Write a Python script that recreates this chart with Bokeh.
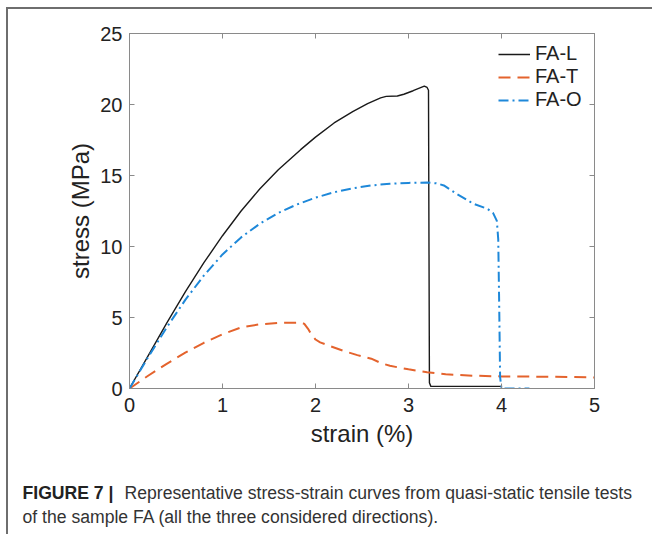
from bokeh.plotting import figure
from bokeh.models import (LinearAxis, FixedTicker, Legend, LegendItem, Range1d,
                          Div, Spacer)
from bokeh.layouts import column, row
from bokeh.core.properties import value
from bokeh.embed import file_html
from bokeh.resources import INLINE

# ---- data ----
strain_L = [0, 0.2, 0.4, 0.6, 0.8, 1.0, 1.2, 1.4, 1.6, 1.84, 2.0, 2.2, 2.4, 2.56,
            2.7, 2.76, 2.88, 2.95, 3.05, 3.17, 3.2, 3.215, 3.225, 3.24, 3.6, 4.0]
stress_L = [0, 2.3, 4.6, 6.8, 8.86, 10.76, 12.5, 14.05, 15.4, 16.82, 17.7, 18.7, 19.5,
            20.06, 20.47, 20.57, 20.6, 20.72, 20.97, 21.3, 21.2, 21.0, 0.4, 0.15, 0.15, 0.15]

strain_T = [0, 0.2, 0.4, 0.6, 0.8, 1.0, 1.2, 1.4, 1.6, 1.85, 1.88, 1.92, 1.96, 2.0,
            2.05, 2.15, 2.3, 2.45, 2.6, 2.7, 2.8, 3.0, 3.2, 3.4, 3.7, 4.0, 4.5, 5.0]
stress_T = [0, 0.9, 1.74, 2.52, 3.22, 3.82, 4.3, 4.52, 4.62, 4.64, 4.55, 4.2, 3.75, 3.45,
            3.25, 3.0, 2.65, 2.35, 2.1, 1.8, 1.6, 1.35, 1.15, 1.0, 0.9, 0.85, 0.83, 0.78]

strain_O = [0, 0.2, 0.4, 0.6, 0.8, 1.0, 1.2, 1.4, 1.6, 1.8, 2.0, 2.2, 2.4, 2.6,
            2.8, 3.0, 3.2, 3.3, 3.38, 3.52, 3.7, 3.85, 3.91, 3.95, 3.965, 3.975,
            3.985, 4.0, 4.3]
stress_O = [0, 2.2, 4.3, 6.24, 7.96, 9.44, 10.64, 11.6, 12.36, 12.96, 13.44, 13.82, 14.1, 14.3,
            14.42, 14.48, 14.5, 14.45, 14.3, 13.7, 13.0, 12.65, 12.35, 11.8, 10.5, 6.0,
            0.8, 0.0, 0.0]

series_names = ["FA-L", "FA-T", "FA-O"]
x_ticks = [0, 1, 2, 3, 4, 5]
y_ticks = [0, 5, 10, 15, 20, 25]

caption_bold = "FIGURE 7 |"
caption_line1 = "Representative stress-strain curves from quasi-static tensile tests"
caption_line2 = "of the sample FA (all the three considered directions)."

# ---- layout constants (page pixels) ----
W, H = 655, 534
OX, OY = 8, 9            # origin of the chart block inside the page frame lines
FL, FR, FT, FB = 129, 594, 33, 388
CAP_TOP = 470
FONT = "Liberation Sans"
AX_GRAY = "#8a8a8a"
TXT = "#222222"
FRAME_GRAY = "#6e6e6e"

pw = W - OX
ph = CAP_TOP - OY
p = figure(width=pw, height=ph, output_backend="svg", toolbar_location=None,
           x_range=Range1d(0, 5), y_range=Range1d(0, 25),
           min_border_left=FL - OX, min_border_right=W - FR,
           min_border_top=FT - OY, min_border_bottom=CAP_TOP - FB,
           x_axis_label="strain (%)", y_axis_label="stress (MPa)")
p.frame_align = False
p.xgrid.visible = False
p.ygrid.visible = False
p.outline_line_color = AX_GRAY
p.outline_line_width = 1
p.background_fill_color = "white"
p.border_fill_color = "white"

for ax, tk in ((p.xaxis[0], x_ticks), (p.yaxis[0], y_ticks)):
    ax.ticker = FixedTicker(ticks=tk)
    ax.axis_line_color = AX_GRAY
    ax.major_tick_line_color = AX_GRAY
    ax.major_tick_in = 5
    ax.major_tick_out = 0
    ax.minor_tick_line_color = None
    ax.major_label_text_font = FONT
    ax.major_label_text_font_size = "20px"
    ax.major_label_text_color = TXT
    ax.axis_label_text_font = FONT
    ax.axis_label_text_font_size = "24px"
    ax.axis_label_text_font_style = "normal"
    ax.axis_label_text_color = TXT
p.xaxis[0].major_label_standoff = 9
p.xaxis[0].axis_label_standoff = 5
p.yaxis[0].major_label_standoff = 7
p.yaxis[0].axis_label_standoff = 3

for loc, tk in (("right", y_ticks), ("above", x_ticks)):
    ax = LinearAxis(ticker=FixedTicker(ticks=tk))
    ax.axis_line_color = AX_GRAY
    ax.major_tick_line_color = AX_GRAY
    ax.major_tick_in = 5
    ax.major_tick_out = 0
    ax.minor_tick_line_color = None
    ax.major_label_text_font_size = "1px"
    ax.major_label_text_color = None
    p.add_layout(ax, loc)

rL = p.line(strain_L, stress_L, line_color="#1a1a1a", line_width=1.4)
rT = p.line(strain_T, stress_T, line_color="#E4632D", line_width=2,
            line_dash="12 7")
rO = p.line(strain_O, stress_O, line_color="#1E88D9", line_width=2,
            line_dash="10 4 2 4")

LBL_H = 23
legend = Legend(items=[LegendItem(label=series_names[0], renderers=[rL]),
                       LegendItem(label=series_names[1], renderers=[rT]),
                       LegendItem(label=series_names[2], renderers=[rO])],
                location=(498 - FL, FB - (42 + 3 * LBL_H)))
legend.label_text_font = FONT
legend.label_text_font_size = "20px"
legend.label_text_color = TXT
legend.glyph_width = 32
legend.glyph_height = 20
legend.label_height = LBL_H
legend.label_standoff = 5
legend.spacing = 0
legend.margin = 0
legend.padding = 0
legend.border_line_color = None
legend.background_fill_alpha = 0
p.add_layout(legend)

# ---- caption as its own small canvas ----
cap_h = H - CAP_TOP
cap = figure(width=pw, height=cap_h, output_backend="svg", toolbar_location=None,
             x_range=Range1d(0, pw), y_range=Range1d(cap_h, 0),
             x_axis_location=None, y_axis_location=None,
             min_border=0, min_border_left=0, min_border_right=0,
             min_border_top=0, min_border_bottom=0)
cap.frame_align = False
cap.xgrid.visible = False
cap.ygrid.visible = False
cap.outline_line_color = None
cap.border_fill_color = "white"

cap.text(x=[22 - OX], y=[492 - CAP_TOP], text=[caption_bold], text_font=value(FONT),
         text_font_size="17.6px", text_font_style="bold", text_color="#222222",
         text_baseline="middle", text_align="left")
cap.text(x=[124 - OX], y=[492 - CAP_TOP], text=[caption_line1], text_font=value(FONT),
         text_font_size="17.6px", text_color="#333333",
         text_baseline="middle", text_align="left")
cap.text(x=[22 - OX], y=[516 - CAP_TOP], text=[caption_line2], text_font=value(FONT),
         text_font_size="17.6px", text_color="#333333",
         text_baseline="middle", text_align="left")

# ---- page frame lines (top and left) ----
top_line = Div(text="", width=W - 6 - 3, height=2, margin=0,
               styles={"background-color": FRAME_GRAY})
left_line = Div(text="", width=2, height=H - OY, margin=0,
                styles={"background-color": FRAME_GRAY})

page = column(
    Spacer(width=W, height=7, margin=0),
    row(Spacer(width=6, height=2, margin=0), top_line, spacing=0, margin=0),
    row(Spacer(width=6, height=H - OY, margin=0), left_line, column(p, cap, spacing=0, margin=0),
        spacing=0, margin=0),
    spacing=0, margin=0)

open("out.html", "w").write(file_html(page, INLINE))
